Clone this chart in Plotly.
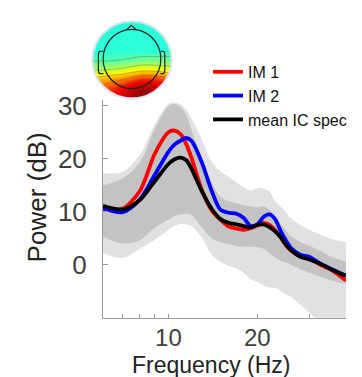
import numpy as np
import plotly.graph_objects as go

W, H = 362, 377

# ---------------- data ----------------
freqs = [6, 7, 8, 9, 10, 10.5, 11, 11.5, 12, 13, 14, 15, 16, 17, 18, 19, 20, 21, 22, 23, 24, 25, 26, 28, 30, 33, 36, 40]
im1 = [10.5, 10.6, 13.9, 21.0, 25.0, 25.3, 24.6, 22.7, 20.0, 14.0, 10.3, 8.5, 7.2, 6.8, 6.6, 6.9, 7.4, 7.9, 7.5, 6.5, 5.2, 3.7, 2.7, 1.6, 1.2, -0.1, -1.1, -3.0]
im2 = [10.7, 9.9, 12.3, 17.0, 21.3, 22.7, 23.4, 23.9, 23.3, 19.2, 14.0, 10.4, 9.8, 9.6, 8.8, 7.3, 7.6, 9.0, 9.5, 8.6, 6.4, 4.6, 3.2, 1.9, 1.5, 0.1, -0.9, -2.1]
mean_spec = [11.1, 10.4, 12.2, 15.8, 19.0, 19.9, 20.2, 19.7, 18.0, 13.8, 10.6, 8.6, 7.9, 7.6, 7.3, 7.0, 7.5, 7.6, 7.1, 6.3, 5.2, 3.8, 2.8, 1.5, 1.0, 0.1, -1.0, -2.1]
dark_upper = [15.0, 16.3, 19.3, 25.7, 29.9, 30.3, 29.7, 28.2, 25.3, 20.0, 15.5, 12.8, 12.0, 11.6, 11.2, 11.0, 10.8, 11.0, 10.4, 9.0, 7.7, 6.5, 5.4, 4.3, 3.6, 2.5, 1.4, 0.6]
dark_lower = [5.3, 4.0, 4.6, 7.0, 8.5, 9.2, 9.5, 9.6, 9.4, 7.0, 5.0, 4.3, 3.9, 3.5, 3.4, 3.4, 3.3, 3.0, 2.2, 1.3, 0.8, 0.4, 0.0, -0.8, -1.5, -2.3, -3.0, -3.6]
light_upper = [17.3, 17.5, 20.8, 26.5, 30.3, 30.6, 30.2, 29.2, 27.5, 23.5, 19.5, 17.6, 16.6, 15.5, 14.6, 14.0, 14.4, 14.4, 13.8, 12.0, 11.0, 10.0, 8.8, 7.5, 6.6, 5.6, 4.8, 4.3]
light_lower = [2.2, 1.3, 3.0, 4.7, 6.6, 7.3, 7.7, 7.6, 7.2, 5.1, 2.0, 0.5, -0.2, -0.7, -1.5, -2.7, -3.2, -3.9, -4.3, -4.4, -5.0, -5.6, -6.0, -7.6, -9.0, -11.0, -11.0, -11.0]

y_tick_vals = [0, 10, 20, 30]
x_tick_vals = [7, 8, 9, 10, 20, 30, 40]
x_tick_text = ["", "", "", "10", "20", "", ""]

# scalp map values (rows bottom -> top, columns left -> right)
topo = [
    [0.74, 0.76, 0.80, 0.86, 0.94, 1.00, 1.00, 0.90, 0.80],
    [0.72, 0.74, 0.77, 0.82, 0.88, 0.94, 0.93, 0.86, 0.78],
    [0.65, 0.66, 0.68, 0.70, 0.74, 0.77, 0.77, 0.75, 0.71],
    [0.54, 0.54, 0.55, 0.56, 0.58, 0.60, 0.60, 0.59, 0.58],
    [0.46, 0.46, 0.46, 0.47, 0.48, 0.49, 0.49, 0.49, 0.49],
    [0.43, 0.43, 0.43, 0.43, 0.43, 0.43, 0.43, 0.43, 0.43],
    [0.43, 0.43, 0.43, 0.43, 0.43, 0.43, 0.43, 0.43, 0.43],
    [0.43, 0.43, 0.43, 0.43, 0.43, 0.43, 0.43, 0.43, 0.43],
    [0.43, 0.43, 0.43, 0.43, 0.43, 0.43, 0.43, 0.43, 0.43],
]
topo_axis = list(np.linspace(-1, 1, 9))

FONT = "Liberation Sans, Arial, Helvetica, sans-serif"
LIGHT = "rgb(225,225,225)"
DARK = "rgb(195,195,195)"

fig = go.Figure()

# bands
fig.add_trace(go.Scatter(x=freqs, y=light_lower, mode="lines", line=dict(width=0, shape="spline"),
                         showlegend=False, hoverinfo="skip"))
fig.add_trace(go.Scatter(x=freqs, y=light_upper, mode="lines", line=dict(width=0, shape="spline"),
                         fill="tonexty", fillcolor=LIGHT, showlegend=False, hoverinfo="skip"))
fig.add_trace(go.Scatter(x=freqs, y=dark_lower, mode="lines", line=dict(width=0, shape="spline"),
                         showlegend=False, hoverinfo="skip"))
fig.add_trace(go.Scatter(x=freqs, y=dark_upper, mode="lines", line=dict(width=0, shape="spline"),
                         fill="tonexty", fillcolor=DARK, showlegend=False, hoverinfo="skip"))

# lines
fig.add_trace(go.Scatter(x=freqs, y=im1, mode="lines", name="IM 1",
                         line=dict(color="#ff0000", width=3.8, shape="spline", smoothing=0.8)))
fig.add_trace(go.Scatter(x=freqs, y=im2, mode="lines", name="IM 2",
                         line=dict(color="#0000ff", width=3.8, shape="spline", smoothing=0.8)))
fig.add_trace(go.Scatter(x=freqs, y=mean_spec, mode="lines", name="mean IC spec",
                         line=dict(color="#000000", width=3.8, shape="spline", smoothing=0.8)))

# scalp map
fig.add_trace(go.Contour(x=topo_axis, y=topo_axis, z=topo, xaxis="x2", yaxis="y2",
                         colorscale="Jet", zmin=0, zmax=1, showscale=False,
                         contours=dict(coloring="heatmap", start=0.47, end=1.0, size=0.08),
                         line=dict(color="rgba(70,70,70,0.55)", width=0.6),
                         hoverinfo="skip"))

# mask outside the disk
ang = np.linspace(0, 2 * np.pi, 90)
outer = "M-1.03,-1.03 L1.03,-1.03 L1.03,1.03 L-1.03,1.03 Z"
inner = "M" + " L".join(f"{np.cos(-a):.4f},{np.sin(-a):.4f}" for a in ang) + " Z"
shapes = [
    dict(type="path", xref="x2", yref="y2", path=outer + " " + inner,
         fillcolor="white", line=dict(width=0), layer="above"),
    dict(type="circle", xref="x2", yref="y2", x0=-1.0, x1=1.0, y0=-1.0, y1=1.0,
         line=dict(color="rgba(215,228,240,1)", width=2), layer="above"),
    # head outline
    dict(type="circle", xref="x2", yref="y2", x0=-0.73, x1=0.73, y0=-0.75, y1=0.79,
         line=dict(color="#222", width=1.2), layer="above"),
    dict(type="path", xref="x2", yref="y2", path="M-0.14,0.775 L-0.02,0.89 L0.11,0.775",
         line=dict(color="#222", width=1.2), layer="above"),
    dict(type="path", xref="x2", yref="y2",
         path="M-0.725,0.22 L-0.82,0.22 Q-0.85,0.2 -0.85,0.12 L-0.85,-0.28 Q-0.85,-0.36 -0.80,-0.36 L-0.72,-0.36",
         line=dict(color="#222", width=1.2), layer="above"),
    dict(type="path", xref="x2", yref="y2",
         path="M0.725,0.22 L0.80,0.22 Q0.83,0.2 0.83,0.12 L0.83,-0.28 Q0.83,-0.36 0.78,-0.36 L0.72,-0.36",
         line=dict(color="#222", width=1.2), layer="above"),
]

def px_x(p):
    return p / W

def px_y(p):
    return 1 - p / H

fig.update_layout(
    width=W, height=H,
    margin=dict(l=0, r=0, t=0, b=0),
    paper_bgcolor="white", plot_bgcolor="white",
    font=dict(family=FONT, color="#222"),
    shapes=shapes,
    showlegend=True,
    legend=dict(x=px_x(208), y=px_y(47), xanchor="left", yanchor="top",
                traceorder="normal",
                bgcolor="rgba(0,0,0,0)", font=dict(size=16, color="#111", family=FONT),
                itemwidth=30, tracegroupgap=0),
    xaxis=dict(domain=[px_x(103), px_x(346)], type="log",
               range=[np.log10(6), np.log10(40)],
               tickmode="array", tickvals=x_tick_vals, ticktext=x_tick_text,
               ticks="inside", ticklen=4, tickcolor="#999", tickwidth=1,
               showline=True, linecolor="#999", linewidth=1,
               showgrid=False, zeroline=False,
               tickfont=dict(size=24, color="#404040", family=FONT),
               ticklabelstandoff=-2,
               anchor="y"),
    yaxis=dict(domain=[px_y(316.3), px_y(93.6)], range=[-10, 31],
               tickmode="array", tickvals=y_tick_vals,
               ticks="inside", ticklen=5, tickcolor="#999", tickwidth=1,
               showline=True, linecolor="#999", linewidth=1,
               showgrid=False, zeroline=False,
               tickfont=dict(size=26, color="#404040", family=FONT),
               ticklabelstandoff=10,
               anchor="x"),
    xaxis2=dict(domain=[px_x(90.5), px_x(173.5)], range=[-1.05, 1.05], visible=False, anchor="y2"),
    yaxis2=dict(domain=[px_y(93.5), px_y(10.5)], range=[-1.05, 1.05], visible=False, anchor="x2"),
    annotations=[
        dict(text="Power (dB)", x=px_x(37), y=px_y(193), xref="paper", yref="paper",
             showarrow=False, textangle=-90, font=dict(size=26, color="#222", family=FONT),
             xanchor="center", yanchor="middle"),
        dict(text="Frequency (Hz)", x=px_x(211), y=px_y(364.5), xref="paper", yref="paper",
             showarrow=False, font=dict(size=23, color="#222", family=FONT),
             xanchor="center", yanchor="middle"),
    ],
)

fig.write_html("out.html", config={"displayModeBar": False},
               post_script="document.body.style.margin='0px';")
